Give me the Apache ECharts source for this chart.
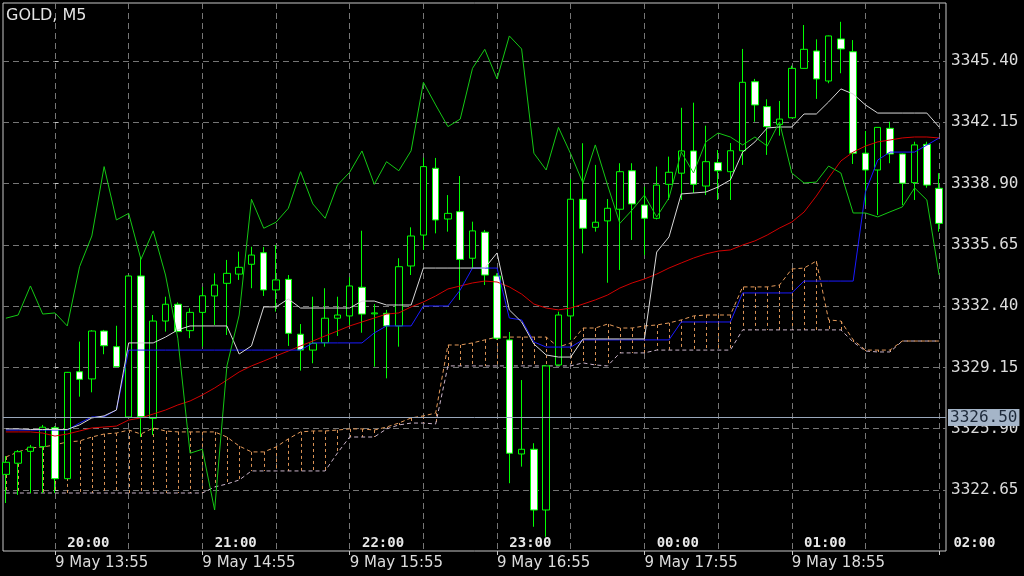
<!DOCTYPE html>
<html><head><meta charset="utf-8">
<script src="https://cdn.jsdelivr.net/npm/echarts@6/dist/echarts.min.js"></script>
<style>html,body{margin:0;padding:0;background:#000;}#c{width:1024px;height:576px;}</style>
</head><body><div id="c"></div>
<script>
// Bar index of first visible bar (bar 0 = 9 May 13:55, M5)
const firstBar = -4;
const opens = [3323.48,3324.07,3324.70,3324.95,3325.95,3323.25,3328.92,3328.54,3331.08,3330.25,3326.52,3334.00,3326.45,3331.61,3332.50,3331.10,3332.07,3332.94,3333.61,3334.10,3334.62,3335.23,3333.26,3333.82,3330.91,3330.07,3330.46,3331.76,3331.88,3333.40,3331.99,3332.02,3331.35,3334.53,3336.17,3339.71,3337.02,3337.41,3334.94,3336.32,3334.00,3330.61,3324.56,3324.81,3321.59,3329.28,3331.88,3338.07,3336.58,3336.92,3337.54,3339.58,3337.76,3337.06,3338.86,3339.45,3340.63,3338.77,3340.01,3339.53,3340.64,3344.30,3342.98,3342.04,3342.39,3345.01,3345.93,3344.34,3346.57,3345.89,3340.51,3339.62,3341.83,3340.47,3338.95,3340.98,3338.65];
const closes = [3324.12,3324.68,3324.92,3325.98,3323.25,3328.89,3328.52,3331.08,3330.30,3329.19,3334.00,3326.54,3331.61,3332.50,3331.05,3332.07,3332.95,3333.52,3334.14,3334.46,3335.11,3333.26,3333.79,3330.96,3330.07,3330.43,3331.76,3331.93,3333.47,3331.98,3332.04,3331.35,3334.49,3336.12,3339.80,3336.97,3337.32,3334.88,3336.39,3334.05,3330.70,3324.60,3324.81,3321.59,3329.23,3331.93,3338.07,3336.53,3336.85,3337.59,3339.53,3337.82,3337.06,3338.82,3339.50,3340.63,3338.86,3340.06,3339.58,3340.64,3344.27,3343.07,3341.92,3342.32,3345.01,3346.02,3344.45,3346.73,3346.04,3340.51,3339.62,3341.88,3340.47,3338.92,3340.95,3338.82,3336.79];
const lows = [3321.96,3322.39,3322.49,3322.49,3322.49,3323.23,3327.60,3327.83,3329.85,3329.17,3326.47,3325.46,3325.57,3331.05,3331.03,3330.70,3330.25,3331.40,3330.87,3333.79,3333.35,3332.94,3332.11,3330.29,3328.98,3329.37,3330.25,3330.82,3331.40,3330.99,3329.19,3328.57,3330.25,3334.05,3335.38,3336.26,3336.35,3332.73,3334.41,3333.52,3330.61,3323.01,3323.89,3320.70,3320.17,3329.23,3330.61,3335.20,3336.35,3333.64,3334.32,3335.91,3335.11,3337.00,3338.03,3338.03,3338.40,3338.29,3338.03,3338.03,3339.89,3342.18,3340.42,3341.44,3342.37,3345.00,3343.39,3344.22,3344.75,3339.94,3337.76,3337.23,3339.98,3337.76,3338.03,3338.68,3336.35];
const highs = [3324.45,3324.77,3325.04,3326.10,3326.04,3328.91,3330.52,3331.12,3331.14,3331.36,3334.02,3335.02,3331.93,3332.90,3332.60,3332.29,3333.42,3334.14,3334.85,3335.29,3335.55,3335.54,3335.64,3334.05,3331.45,3332.90,3333.35,3332.90,3333.93,3336.40,3332.51,3332.20,3334.94,3336.58,3340.27,3340.26,3338.29,3339.30,3336.88,3336.44,3334.14,3331.03,3328.48,3325.13,3329.25,3332.11,3339.14,3341.04,3339.89,3338.08,3339.98,3339.98,3338.73,3339.80,3340.33,3342.92,3343.19,3341.97,3340.68,3341.05,3346.04,3344.45,3343.37,3343.28,3345.15,3347.31,3346.55,3346.75,3347.48,3346.51,3341.69,3341.90,3342.18,3340.50,3341.12,3341.12,3339.45];
const tenkan = [3325.89,3325.89,3325.86,3325.86,3325.86,3325.86,3326.10,3326.47,3326.58,3326.89,3330.45,3330.45,3330.45,3330.76,3331.14,3331.35,3331.35,3331.35,3331.35,3329.86,3330.29,3332.36,3332.36,3332.78,3332.30,3332.30,3332.30,3332.30,3332.30,3332.67,3332.67,3332.46,3332.46,3332.46,3334.42,3334.42,3334.42,3334.42,3334.42,3334.42,3335.22,3332.20,3331.56,3330.39,3329.81,3329.70,3329.70,3330.66,3330.66,3330.66,3330.66,3330.66,3330.66,3335.27,3336.07,3338.35,3338.40,3338.45,3338.72,3339.09,3340.57,3341.11,3341.85,3341.90,3341.90,3342.59,3342.59,3343.23,3343.92,3343.65,3343.07,3342.64,3342.64,3342.64,3342.64,3342.64,3341.90];
const kijun = [3325.83,3325.83,3325.83,3325.83,3325.83,3325.83,3326.20,3326.52,3326.54,3326.89,3330.07,3330.07,3330.07,3330.07,3330.07,3330.07,3330.07,3330.07,3330.07,3330.07,3330.07,3330.07,3330.07,3330.07,3330.07,3330.45,3330.45,3330.45,3330.45,3330.45,3330.98,3331.35,3331.35,3331.35,3332.41,3332.41,3332.41,3333.26,3334.42,3334.42,3334.42,3331.77,3331.67,3330.50,3330.23,3330.23,3330.23,3330.61,3330.61,3330.61,3330.61,3330.61,3330.61,3330.61,3330.61,3331.56,3331.56,3331.56,3331.56,3331.56,3333.10,3333.10,3333.10,3333.10,3333.10,3333.73,3333.73,3333.73,3333.73,3333.73,3338.45,3340.15,3340.57,3340.57,3340.57,3340.94,3341.32];
const chikou = [3331.76,3331.93,3333.47,3331.98,3332.04,3331.35,3334.49,3336.12,3339.80,3336.97,3337.32,3334.88,3336.39,3334.05,3330.70,3324.60,3324.81,3321.59,3329.23,3331.93,3338.07,3336.53,3336.85,3337.59,3339.53,3337.82,3337.06,3338.82,3339.50,3340.63,3338.86,3340.06,3339.58,3340.64,3344.27,3343.07,3341.92,3342.32,3345.01,3346.02,3344.45,3346.73,3346.04,3340.51,3339.62,3341.88,3340.47,3338.92,3340.95,3338.82,3336.79,3337.50,3338.29,3337.13,3338.14,3340.57,3339.46,3341.11,3341.58,3341.37,3340.95,3341.37,3340.89,3342.17,3339.46,3338.93,3338.98,3339.83,3339.46,3337.34,3337.34,3337.13,3337.40,3337.66,3338.67,3338.03,3334.05];
const movingAvg = [3325.73,3325.73,3325.73,3325.67,3325.51,3325.62,3325.78,3325.94,3325.99,3326.04,3326.36,3326.47,3326.68,3326.89,3327.16,3327.37,3327.69,3328.06,3328.48,3328.91,3329.23,3329.49,3329.76,3330.02,3330.29,3330.55,3330.82,3331.08,3331.35,3331.56,3331.77,3331.98,3332.04,3332.36,3332.62,3332.94,3333.31,3333.47,3333.63,3333.73,3333.68,3333.42,3333.04,3332.51,3332.30,3332.20,3332.30,3332.51,3332.73,3332.99,3333.36,3333.63,3333.84,3334.10,3334.42,3334.69,3334.95,3335.17,3335.32,3335.38,3335.64,3335.86,3336.17,3336.54,3336.86,3337.39,3338.24,3339.20,3340.10,3340.57,3340.89,3341.11,3341.21,3341.32,3341.37,3341.37,3341.32];
const senkouA = [3324.40,3324.67,3324.88,3324.93,3325.04,3325.20,3325.25,3325.46,3325.62,3325.67,3325.83,3325.62,3325.94,3325.78,3325.73,3325.73,3325.73,3325.73,3325.46,3324.98,3324.67,3324.67,3324.93,3325.36,3325.73,3325.78,3325.78,3325.83,3325.89,3325.89,3325.83,3325.99,3326.20,3326.47,3326.58,3326.73,3330.34,3330.34,3330.45,3330.61,3330.76,3330.76,3330.76,3330.76,3330.76,3330.23,3330.45,3331.24,3331.24,3331.45,3331.24,3331.24,3331.35,3331.40,3331.51,3331.67,3331.88,3331.93,3331.93,3331.93,3333.42,3333.42,3333.42,3333.52,3334.37,3334.42,3334.79,3331.67,3331.61,3330.61,3330.07,3330.07,3330.07,3330.55,3330.55,3330.55,3330.55];
const senkouB = [3322.49,3322.49,3322.49,3322.49,3322.49,3322.49,3322.49,3322.49,3322.49,3322.49,3322.49,3322.49,3322.49,3322.49,3322.49,3322.49,3322.49,3322.81,3322.97,3323.18,3323.66,3323.66,3323.66,3323.66,3323.66,3323.66,3323.66,3324.61,3325.46,3325.46,3325.46,3325.89,3326.10,3326.20,3326.20,3326.15,3329.23,3329.23,3329.23,3329.23,3329.23,3329.23,3329.23,3329.23,3329.23,3329.23,3329.23,3329.39,3329.28,3329.23,3329.92,3329.92,3329.92,3330.07,3330.07,3330.07,3330.07,3330.07,3330.07,3330.07,3331.14,3331.14,3331.14,3331.14,3331.14,3331.14,3331.14,3331.14,3331.14,3330.50,3330.02,3329.97,3329.97,3330.55,3330.55,3330.55,3330.55];
const currentPrice = 3326.50;
const priceTicks = [3322.65,3325.90,3329.15,3332.40,3335.65,3338.90,3342.15,3345.40];
const gridBars = [0,6,12,18,24,30,36,42,48,54,60,66,72];
const dateTickBars = [0,12,24,36,48,60,72];
const dateBars = [0,12,24,36,48,60];
const dateLabels = ['9 May 13:55','9 May 14:55','9 May 15:55','9 May 16:55','9 May 17:55','9 May 18:55'];
const hourBars = [1,13,25,37,49,61];
const hourLabels = ['20:00','21:00','22:00','23:00','00:00','01:00'];
const lastHourBar = 73, lastHourLabel = '02:00';

const X_MIN = -4.234, X_MAX = 72.56, Y_MIN = 3319.415, Y_MAX = 3348.476;
const pair = arr => arr.map((v, i) => [firstBar + i, v]);

const chart = echarts.init(document.getElementById('c'), null, {renderer: 'canvas'});
const baseX = {type: 'value', min: X_MIN, max: X_MAX, position: 'bottom', axisLine: {show: false}, splitLine: {show: false}};
const option = {
  backgroundColor: '#000',
  animation: false,
  title: {text: 'GOLD, M5', left: 6, top: 8, padding: 0,
    textStyle: {color: '#e4e4e4', fontSize: 16, fontWeight: 'normal', fontFamily: 'DejaVu Sans'}},
  grid: {left: 3, right: 78, top: 3, bottom: 25, show: true, borderColor: '#c8c8c8', borderWidth: 1, backgroundColor: '#000'},
  xAxis: [
    Object.assign({}, baseX, {
      axisTick: {show: false, customValues: gridBars},
      axisLabel: {show: false},
      splitLine: {show: true, lineStyle: {color: '#767676', type: [6, 4], width: 1}}
    }),
    Object.assign({}, baseX, {
      axisTick: {show: true, length: 4, customValues: dateTickBars, lineStyle: {color: '#c8c8c8'}},
      axisLabel: {customValues: dateBars, formatter: v => dateLabels[dateBars.indexOf(v)], align: 'left',
        color: '#dcdcdc', fontFamily: 'DejaVu Sans', fontSize: 15, margin: 5}
    }),
    Object.assign({}, baseX, {
      axisTick: {show: false},
      axisLabel: {inside: true, customValues: hourBars, formatter: v => hourLabels[hourBars.indexOf(v)], align: 'left',
        color: '#e8e8e8', fontFamily: 'DejaVu Sans Mono', fontWeight: 'bold', fontSize: 14, margin: 1}
    })
  ],
  yAxis: {type: 'value', position: 'right', min: Y_MIN, max: Y_MAX,
    axisLine: {show: false},
    axisTick: {show: true, length: 3, customValues: priceTicks, lineStyle: {color: '#c8c8c8'}},
    axisLabel: {customValues: priceTicks, formatter: v => v.toFixed(2), color: '#dcdcdc',
      fontFamily: 'DejaVu Sans Mono', fontSize: 16, margin: 5},
    splitLine: {show: true, lineStyle: {color: '#767676', type: [6, 4], width: 1}}
  },
  series: [
    {type: 'custom', name: 'kumo', silent: true, z: 1,
      data: senkouA.map((a, i) => [firstBar + i, a, senkouB[i]]),
      encode: {x: 0, y: [1, 2]},
      renderItem: (params, api) => {
        const p1 = api.coord([api.value(0), api.value(1)]);
        const p2 = api.coord([api.value(0), api.value(2)]);
        const x = Math.round(p1[0]) + 0.5;
        return {type: 'line', shape: {x1: x, y1: p1[1], x2: x, y2: p2[1]},
          style: {stroke: '#d99255', lineWidth: 1, lineDash: [3, 3]}};
      }
    },
    {type: 'line', name: 'senkouB', data: pair(senkouB), symbol: 'none', silent: true, z: 2,
      lineStyle: {color: '#c9b3c9', width: 1, type: [4, 3]}},
    {type: 'line', name: 'senkouA', data: pair(senkouA), symbol: 'none', silent: true, z: 2,
      lineStyle: {color: '#e49a5a', width: 1, type: [4, 3]}},
    {type: 'candlestick', name: 'GOLD', silent: true, z: 3, barWidth: 7,
      data: opens.map((o, i) => [firstBar + i, o, closes[i], lows[i], highs[i]]),
      encode: {x: 0, y: [1, 2, 3, 4]},
      itemStyle: {color: '#000', color0: '#fff', borderColor: '#00ff00', borderColor0: '#00ff00', borderWidth: 1},
      markLine: {symbol: 'none', silent: true, data: [{yAxis: currentPrice}],
        lineStyle: {color: '#9aa8bc', type: 'solid', width: 1},
        label: {position: 'end', formatter: currentPrice.toFixed(2), distance: 2, backgroundColor: '#a5b5c8',
          color: '#1e2a3a', fontFamily: 'DejaVu Sans Mono', fontSize: 16, padding: [1, 2, 0, 2]}}
    },
    {type: 'line', name: 'MA', data: pair(movingAvg), symbol: 'none', silent: true, z: 4,
      lineStyle: {color: '#d20000', width: 1}},
    {type: 'line', name: 'Kijun', data: pair(kijun), symbol: 'none', silent: true, z: 4,
      lineStyle: {color: '#1a1aff', width: 1}},
    {type: 'line', name: 'Tenkan', data: pair(tenkan), symbol: 'none', silent: true, z: 4,
      lineStyle: {color: '#d8d8d8', width: 1}},
    {type: 'line', name: 'Chikou', data: pair(chikou), symbol: 'none', silent: true, z: 4,
      lineStyle: {color: '#14c814', width: 1}}
  ]
};
chart.setOption(option);
const lx = chart.convertToPixel({xAxisIndex: 0}, lastHourBar);
const ly = chart.convertToPixel({yAxisIndex: 0}, Y_MIN);
chart.setOption({graphic: [{type: 'text', x: lx + 2, y: ly - 1, silent: true,
  style: {text: lastHourLabel, fill: '#e8e8e8', font: 'bold 14px "DejaVu Sans Mono"', align: 'left', verticalAlign: 'bottom',
    textAlign: 'left', textVerticalAlign: 'bottom'}}]});
</script></body></html>
